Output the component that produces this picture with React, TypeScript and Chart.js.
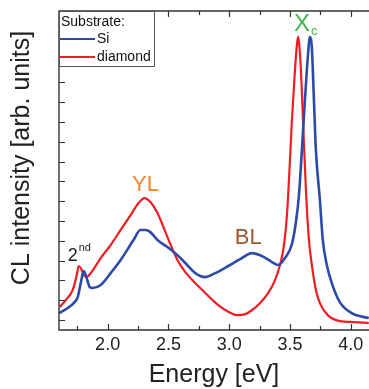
import React, { useEffect, useRef } from "react";
import { Chart, registerables } from "chart.js";

Chart.register(...registerables);

// ---- data (energy in eV, intensity in arb. units) ----
const energyDiamond = [
  1.607, 1.656, 1.713, 1.746, 1.762, 1.779, 1.803, 1.828, 1.861, 1.943, 2.025, 2.107, 2.189,
  2.254, 2.303, 2.352, 2.41, 2.492, 2.574, 2.639, 2.779, 2.91, 3.0, 3.066, 3.131, 3.189, 3.254,
  3.32, 3.377, 3.418, 3.451, 3.475, 3.5, 3.516, 3.541, 3.557, 3.566, 3.574, 3.59, 3.607, 3.631,
  3.656, 3.68, 3.713, 3.746, 3.811, 3.91, 4.033, 4.148,
];
const intensityDiamond = [
  0.66, 1.01, 1.52, 2.27, 2.73, 2.63, 2.27, 2.17, 2.37, 3.13, 3.79, 4.55, 5.3,
  5.91, 6.16, 5.96, 5.4, 4.19, 3.03, 2.42, 1.52, 0.76, 0.4, 0.25, 0.3, 0.51, 0.86,
  1.36, 2.02, 2.78, 3.79, 5.3, 8.08, 10.1, 12.63, 13.89, 14.29, 14.04, 12.63, 10.1, 6.57,
  4.04, 2.78, 1.52, 0.86, 0.25, -0.05, -0.1, -0.15,
];
const energySi = [
  1.598, 1.672, 1.721, 1.754, 1.779, 1.803, 1.828, 1.852, 1.877, 1.943, 2.025, 2.107, 2.213,
  2.27, 2.311, 2.352, 2.41, 2.492, 2.574, 2.639, 2.721, 2.803, 2.885, 2.992, 3.09, 3.189, 3.27,
  3.352, 3.402, 3.459, 3.516, 3.549, 3.574, 3.598, 3.623, 3.648, 3.664, 3.68, 3.697, 3.713,
  3.746, 3.77, 3.803, 3.844, 3.91, 4.008, 4.148,
];
const intensitySi = [
  0.35, 0.61, 0.86, 1.16, 1.87, 2.47, 2.12, 1.67, 1.62, 1.77, 2.37, 3.03, 4.04,
  4.55, 4.55, 4.44, 4.04, 3.69, 3.28, 2.88, 2.37, 2.17, 2.37, 2.73, 3.08, 3.38, 3.23,
  2.93, 2.78, 3.13, 3.84, 4.95, 6.31, 8.59, 11.11, 13.38, 14.29, 13.74, 11.11, 8.59,
  6.06, 4.04, 2.78, 1.87, 0.91, 0.35, 0.1,
];

const xMajorTicks = [2.0, 2.5, 3.0, 3.5, 4.0];
const xMinorTicks = [1.75, 2.25, 2.75, 3.25, 3.75];
const yTicks = [0, 1, 2, 3, 4, 5, 6, 7, 8, 9, 10, 11, 12, 13, 14, 15];

const seriesLabels = ["Si", "diamond"];
const legendTitle = "Substrate:";
const xTitle = "Energy [eV]";
const yTitle = "CL intensity [arb. units]";

// annotation labels placed in data coordinates
const annotations = [
  { text: "YL", sub: "", sup: "", x: 2.311, y: 6.82, color: "#F4862B", size: 22 },
  { text: "BL", sub: "", sup: "", x: 3.156, y: 4.14, color: "#9C5630", size: 22 },
  { text: "X", sub: "c", sup: "", x: 3.598, y: 14.95, color: "#3DB54A", size: 24 },
  { text: "2", sub: "", sup: "nd", x: 1.713, y: 3.23, color: "#222222", size: 18 },
];

const FONT = "'Liberation Sans', Arial, Helvetica, sans-serif";
const BLUE = "#2C4BA8";
const RED = "#EE1D23";
const AXIS = "#333333";

const decorPlugin = {
  id: "decor",
  afterDraw(chart: any) {
    const { ctx, chartArea: a, scales } = chart;
    const xs = scales.x;
    const ys = scales.y;
    ctx.save();
    // frame: top, left, bottom
    ctx.strokeStyle = AXIS;
    ctx.lineWidth = 1.4;
    ctx.beginPath();
    ctx.moveTo(a.right, a.top);
    ctx.lineTo(a.left, a.top);
    ctx.lineTo(a.left, a.bottom);
    ctx.lineTo(a.right, a.bottom);
    ctx.stroke();
    // inward ticks
    ctx.lineWidth = 1.2;
    ctx.beginPath();
    const xt = (v: number, len: number) => {
      const px = Math.round(xs.getPixelForValue(v)) + 0.5;
      ctx.moveTo(px, a.bottom);
      ctx.lineTo(px, a.bottom - len);
      ctx.moveTo(px, a.top);
      ctx.lineTo(px, a.top + len);
    };
    xMajorTicks.forEach((v) => xt(v, 6));
    xMinorTicks.forEach((v) => xt(v, 4));
    yTicks.forEach((v) => {
      const py = Math.round(ys.getPixelForValue(v)) + 0.5;
      ctx.moveTo(a.left, py);
      ctx.lineTo(a.left + 6, py);
    });
    ctx.stroke();

    // annotations
    annotations.forEach((an) => {
      const px = xs.getPixelForValue(an.x);
      const py = ys.getPixelForValue(an.y);
      ctx.fillStyle = an.color;
      ctx.font = `${an.size}px ${FONT}`;
      ctx.textAlign = "center";
      ctx.textBaseline = "middle";
      ctx.fillText(an.text, px, py);
      const w = ctx.measureText(an.text).width;
      if (an.sub) {
        ctx.font = `${Math.round(an.size * 0.55)}px ${FONT}`;
        ctx.textAlign = "left";
        ctx.fillText(an.sub, px + w / 2 + 1, py + an.size * 0.3);
      }
      if (an.sup) {
        ctx.font = `${Math.round(an.size * 0.62)}px ${FONT}`;
        ctx.textAlign = "left";
        ctx.fillText(an.sup, px + w / 2 + 1, py - an.size * 0.45);
      }
    });

    // legend box
    const lx = a.left;
    const ly = a.top;
    const lw = 96;
    const lh = 56;
    ctx.fillStyle = "#ffffff";
    ctx.fillRect(lx, ly, lw, lh);
    ctx.strokeStyle = "#555555";
    ctx.lineWidth = 1;
    ctx.strokeRect(lx + 0.5, ly + 0.5, lw - 1, lh - 1);
    ctx.fillStyle = "#111111";
    ctx.font = `14px ${FONT}`;
    ctx.textAlign = "left";
    ctx.textBaseline = "middle";
    ctx.fillText(legendTitle, lx + 2, ly + 11);
    chart.data.datasets.forEach((ds: any, i: number) => {
      const yy = ly + 28 + i * 18;
      ctx.strokeStyle = ds.borderColor;
      ctx.lineWidth = 2;
      ctx.beginPath();
      ctx.moveTo(lx + 1, yy);
      ctx.lineTo(lx + 36, yy);
      ctx.stroke();
      ctx.fillStyle = "#111111";
      ctx.fillText(ds.label, lx + 38, yy);
    });

    // y-axis title
    ctx.save();
    ctx.translate(22, 158);
    ctx.rotate(-Math.PI / 2);
    ctx.fillStyle = "#222222";
    ctx.font = `25px ${FONT}`;
    ctx.textAlign = "center";
    ctx.textBaseline = "middle";
    ctx.fillText(yTitle, 0, 0);
    ctx.restore();

    ctx.restore();
  },
};

export default function App() {
  const ref = useRef<HTMLCanvasElement | null>(null);
  useEffect(() => {
    document.body.style.margin = "0";
    const canvas = ref.current;
    if (!canvas) return;
    const chart = new Chart(canvas, {
      type: "line",
      data: {
        datasets: [
          {
            label: seriesLabels[0],
            data: energySi.map((e, i) => ({ x: e, y: intensitySi[i] })),
            borderColor: BLUE,
            borderWidth: 2.6,
            pointRadius: 0,
            cubicInterpolationMode: "monotone",
            fill: false,
          },
          {
            label: seriesLabels[1],
            data: energyDiamond.map((e, i) => ({ x: e, y: intensityDiamond[i] })),
            borderColor: RED,
            borderWidth: 2.2,
            pointRadius: 0,
            cubicInterpolationMode: "monotone",
            fill: false,
          },
        ],
      },
      options: {
        animation: false,
        responsive: false,
        devicePixelRatio: 1,
        layout: { padding: { top: 11, right: 0, left: 0, bottom: 0 } },
        plugins: { legend: { display: false }, tooltip: { enabled: false } },
        scales: {
          x: {
            type: "linear",
            min: 1.6,
            max: 4.15,
            grid: { display: false },
            border: { display: false },
            afterBuildTicks: (s: any) => {
              s.ticks = xMajorTicks.map((v) => ({ value: v }));
            },
            afterFit: (s: any) => {
              s.height = 59;
            },
            ticks: {
              padding: -4,
              maxRotation: 0,
              color: "#222222",
              font: { size: 18, family: FONT },
              callback: (v: any) => Number(v).toFixed(1),
            },
            title: {
              display: true,
              text: xTitle,
              color: "#222222",
              font: { size: 25, family: FONT, lineHeight: 1.1 },
              padding: { top: 0, bottom: 0 },
            },
          },
          y: {
            type: "linear",
            min: -0.5,
            max: 15.6,
            grid: { display: false },
            border: { display: false },
            ticks: { display: false },
            afterFit: (s: any) => {
              s.width = 59;
            },
          },
        },
      },
      plugins: [decorPlugin],
    } as any);
    return () => chart.destroy();
  }, []);
  return <canvas ref={ref} width={369} height={389} style={{ display: "block", width: 369, height: 389 }} />;
}
